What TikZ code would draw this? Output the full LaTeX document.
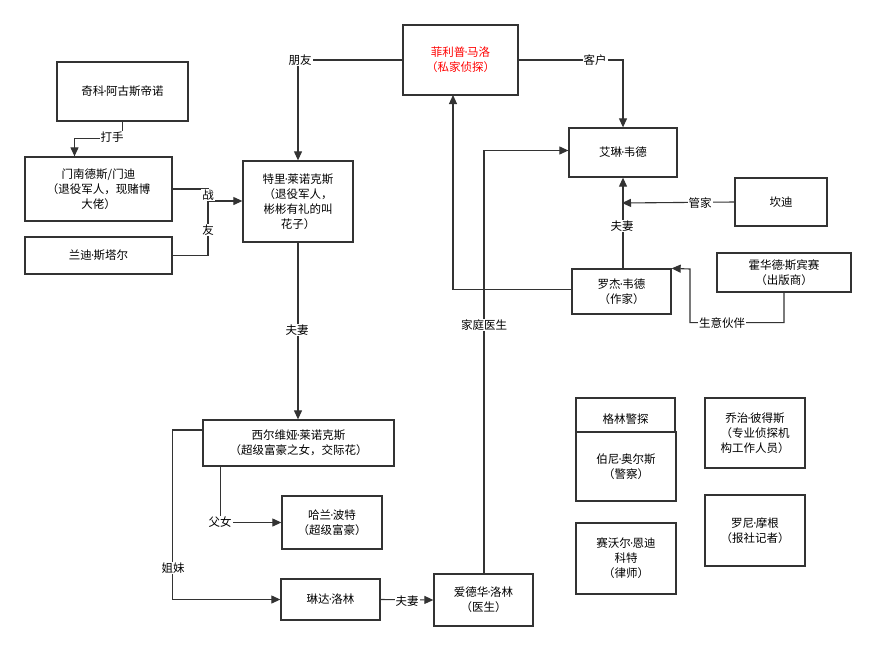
\documentclass[tikz,border=0pt]{standalone}
\usepackage{fontspec}
\setmainfont{Noto Sans CJK SC}
\newfontfamily\latinf{DejaVu Sans}
\newcommand\dt{{\latinf\kern-1pt·\kern-1pt}}
\usetikzlibrary{arrows.meta}
\begin{document}
\begin{tikzpicture}[x=1pt,y=-1pt,
 box/.style={draw=black!80,line width=1.3pt,fill=white,inner sep=0pt,align=center,font=\fontsize{11.5}{15}\selectfont},
 ar/.style={draw=black!80,line width=1.1pt,-{Triangle[length=9pt,width=8pt]}},
 ln/.style={draw=black!80,line width=1.1pt},
 lb/.style={fill=white,inner sep=1pt,font=\fontsize{11.5}{13}\selectfont}]
\useasboundingbox (0,0) rectangle (877,651);
\newcommand\bx[6]{\node[box,minimum width={#4-#2},minimum height={#5-#3}] (#1) at ({(#2+#4)/2},{(#3+#5)/2}) {#6};}
\bx{ml}{403}{25}{518}{95}{\textcolor{red}{菲利普\dt 马洛}\\\textcolor{red}{（私家侦探）}}
\bx{qk}{57}{62}{188}{121}{奇科\dt 阿古斯帝诺}
\bx{mn}{25}{157}{172}{221}{门南德斯/门迪\\（退役军人，现赌博\\大佬）}
\bx{ld}{25}{237}{172}{274}{兰迪\dt 斯塔尔}
\bx{tl}{243}{161}{353}{242}{特里\dt 莱诺克斯\\（退役军人，\\彬彬有礼的叫\\花子）}
\bx{al}{569}{128}{677}{177}{艾琳\dt 韦德}
\bx{kd}{735}{178}{827}{226}{坎迪}
\bx{hw}{717}{253}{851}{292}{霍华德\dt 斯宾赛\\（出版商）}
\bx{lj}{572}{269}{671}{314}{罗杰\dt 韦德\\（作家）}
\bx{xe}{203}{420}{394}{466}{西尔维娅\dt 莱诺克斯\\（超级富豪之女，交际花）}
\bx{hl}{282}{496}{382}{549}{哈兰\dt 波特\\（超级富豪）}
\bx{lin}{281}{579}{380}{620}{琳达\dt 洛林}
\bx{ad}{434}{574}{533}{626}{爱德华\dt 洛林\\（医生）}
\bx{gl}{576}{398}{675}{440}{格林警探}
\bx{bn}{576}{432}{676}{501}{伯尼\dt 奥尔斯\\（警察）}
\bx{qz}{705}{398}{805}{468}{乔治\dt 彼得斯\\（专业侦探机\\构工作人员）}
\bx{ln2}{705}{495}{805}{566}{罗尼\dt 摩根\\（报社记者）}
\bx{sw}{576}{523}{676}{594}{赛沃尔\dt 恩迪\\科特\\（律师）}
\coordinate (kdend) at (622,203);
\coordinate (jz) at (208,201);
\coordinate (mlb) at (453,95);
\coordinate (hwc) at (690,269);
\draw[ar] (ml.west) -| (tl.north);
\node[lb] (t1) at (300,60) {朋友};
\draw[ar] (ml.east) -| (al.north);
\node[lb] (t2) at (595,60) {客户};
\draw[ar] (qk.south) -- ++(0,17) -| ([xshift=-24pt]mn.north);
\node[lb] (t3) at (112,137) {打手};
\draw[ar] (mn.east) -| (jz) -- (jz -| tl.west);
\draw[ln] (ld.east) -| (jz);
\node[lb] (t4) at (208,195) {战};
\node[lb] (t5) at (208,230) {友};
\draw[ar] (tl.south) -- (xe.north -| tl.south);
\node[lb] (t6) at (297,330) {夫妻};
\draw[ar] ([xshift=-78pt]xe.south) |- (hl.west);
\node[lb] (t7) at (220,522) {父女};
\draw[ar] ([yshift=13pt]xe.west) -- ++(-30,0) |- (lin.west);
\node[lb] (t8) at (173,568) {姐妹};
\draw[ar] (lin.east) -- (ad.west);
\node[lb] (t9) at (407,601) {夫妻};
\draw[ar] (ad.north -| 484,0) |- ([yshift=2pt]al.west);
\node[lb] (t10) at (484,325) {家庭医生};
\draw[ar] ([yshift=2pt]lj.west) -| (mlb);
\draw[ar] (lj.north -| al.south) -- (al.south);
\node[lb] (t11) at (622,226) {夫妻};
\draw[ar] (kd.west) -- (kdend);
\node[lb] (t12) at (700,203) {管家};
\draw[ar] (hw.south) -- ++(0,30) -| (hwc) -- (lj.north east);
\node[lb] (t13) at (722,323) {生意伙伴};
\end{tikzpicture}
\end{document}
